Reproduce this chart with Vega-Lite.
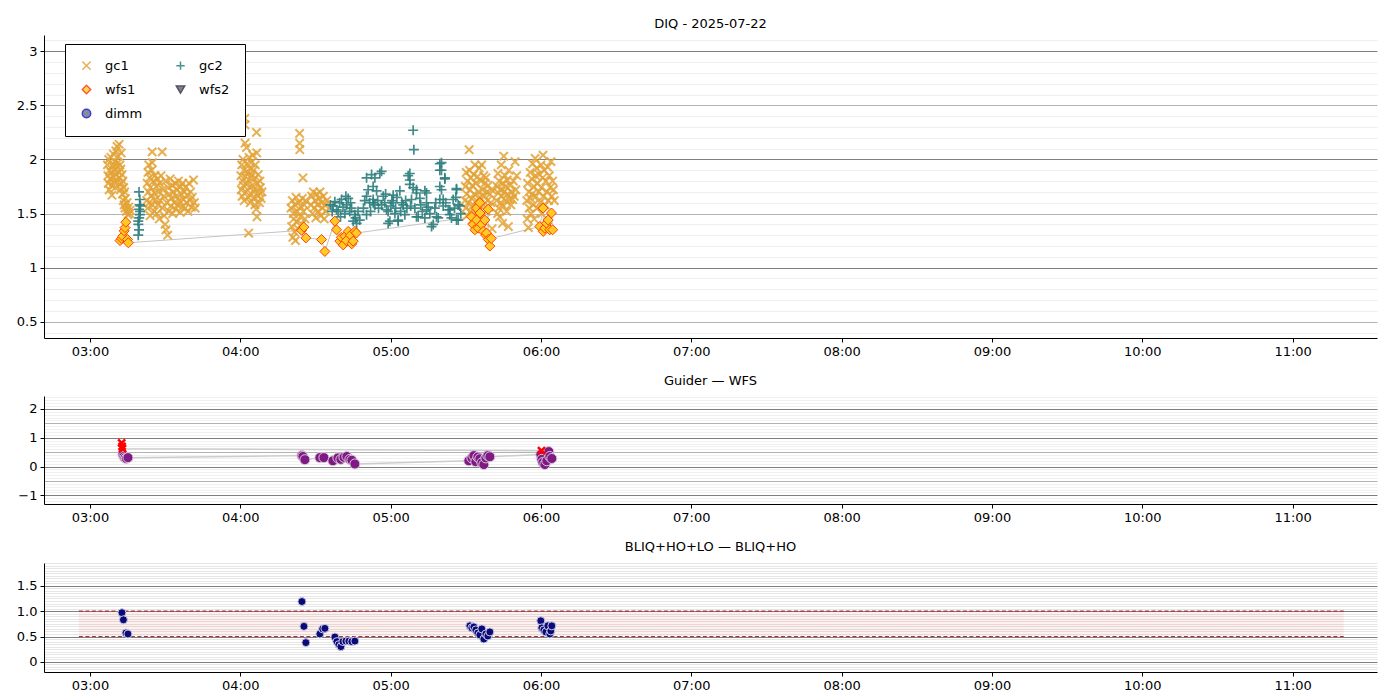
{
  "$schema": "https://vega.github.io/schema/vega-lite/v6.json",
  "background": "white",
  "padding": {"top": 18, "left": 16, "right": 23, "bottom": 5},
  "config": {
    "font": "DejaVu Sans",
    "view": {"stroke": null},
    "title": {"fontSize": 13, "fontWeight": "normal", "color": "black", "offset": 3, "anchor": "middle", "frame": "group", "font": "DejaVu Sans"},
    "axis": {"labelFont": "DejaVu Sans", "labelFontSize": 13, "labelColor": "black", "domainColor": "black", "domainWidth": 1, "tickColor": "black", "tickSize": 4, "labelPadding": 3},
    "axisX": {"grid": false, "labelFlush": false, "labelOverlap": false},
    "axisY": {"labelOverlap": false, "labelBound": false, "labelFlush": false},
    "concat": {"spacing": 17},
    "legend": {"fillColor": "white", "strokeColor": "black", "padding": 15, "labelFontSize": 13, "labelFont": "DejaVu Sans", "labelColor": "black", "symbolSize": 70, "symbolStrokeWidth": 1.5, "rowPadding": 9, "columnPadding": 30, "labelOffset": 12, "cornerRadius": 0}
  },
  "datasets": {
    "top": [
      {"s":"gc1","t":"2025-07-22T03:07:00Z","v":1.95},{"s":"gc1","t":"2025-07-22T03:07:10Z","v":1.85},{"s":"gc1","t":"2025-07-22T03:07:20Z","v":1.78},{"s":"gc1","t":"2025-07-22T03:07:30Z","v":2.0},{"s":"gc1","t":"2025-07-22T03:07:40Z","v":1.72},{"s":"gc1","t":"2025-07-22T03:07:50Z","v":1.9},{"s":"gc1","t":"2025-07-22T03:08:00Z","v":1.82},{"s":"gc1","t":"2025-07-22T03:08:47Z","v":1.67},{"s":"gc1","t":"2025-07-22T03:08:20Z","v":2.02},{"s":"gc1","t":"2025-07-22T03:08:30Z","v":1.88},{"s":"gc1","t":"2025-07-22T03:08:40Z","v":1.76},{"s":"gc1","t":"2025-07-22T03:09:00Z","v":1.94},{"s":"gc1","t":"2025-07-22T03:09:10Z","v":1.84},{"s":"gc1","t":"2025-07-22T03:09:20Z","v":2.05},{"s":"gc1","t":"2025-07-22T03:09:30Z","v":1.8},{"s":"gc1","t":"2025-07-22T03:09:50Z","v":1.9},{"s":"gc1","t":"2025-07-22T03:10:00Z","v":1.98},{"s":"gc1","t":"2025-07-22T03:10:10Z","v":1.74},{"s":"gc1","t":"2025-07-22T03:10:20Z","v":2.08},{"s":"gc1","t":"2025-07-22T03:10:30Z","v":1.86},{"s":"gc1","t":"2025-07-22T03:10:40Z","v":1.93},{"s":"gc1","t":"2025-07-22T03:10:50Z","v":2.12},{"s":"gc1","t":"2025-07-22T03:11:00Z","v":1.79},{"s":"gc1","t":"2025-07-22T03:11:10Z","v":1.97},{"s":"gc1","t":"2025-07-22T03:11:20Z","v":2.03},{"s":"gc1","t":"2025-07-22T03:11:30Z","v":1.88},{"s":"gc1","t":"2025-07-22T03:11:40Z","v":2.14},{"s":"gc1","t":"2025-07-22T03:11:50Z","v":1.83},{"s":"gc1","t":"2025-07-22T03:12:00Z","v":1.95},{"s":"gc1","t":"2025-07-22T03:12:10Z","v":1.72},{"s":"gc1","t":"2025-07-22T03:12:20Z","v":1.91},{"s":"gc1","t":"2025-07-22T03:12:30Z","v":2.06},{"s":"gc1","t":"2025-07-22T03:12:40Z","v":1.78},{"s":"gc1","t":"2025-07-22T03:12:50Z","v":1.86},{"s":"gc1","t":"2025-07-22T03:13:00Z","v":1.68},{"s":"gc1","t":"2025-07-22T03:13:10Z","v":1.8},{"s":"gc1","t":"2025-07-22T03:13:20Z","v":1.62},{"s":"gc1","t":"2025-07-22T03:13:30Z","v":1.74},{"s":"gc1","t":"2025-07-22T03:13:40Z","v":1.58},{"s":"gc1","t":"2025-07-22T03:13:50Z","v":1.7},{"s":"gc1","t":"2025-07-22T03:14:00Z","v":1.55},{"s":"gc1","t":"2025-07-22T03:14:10Z","v":1.64},{"s":"gc1","t":"2025-07-22T03:14:30Z","v":1.52},{"s":"gc1","t":"2025-07-22T03:14:50Z","v":1.6},{"s":"gc1","t":"2025-07-22T03:15:10Z","v":1.49},{"s":"gc1","t":"2025-07-22T03:15:30Z","v":1.56},{"s":"gc1","t":"2025-07-22T03:15:50Z","v":1.5},{"s":"gc1","t":"2025-07-22T03:16:00Z","v":1.53},
      {"s":"gc1","t":"2025-07-22T03:22:40Z","v":1.62},{"s":"gc1","t":"2025-07-22T03:22:50Z","v":1.78},{"s":"gc1","t":"2025-07-22T03:23:00Z","v":1.55},{"s":"gc1","t":"2025-07-22T03:23:10Z","v":1.88},{"s":"gc1","t":"2025-07-22T03:23:20Z","v":1.7},{"s":"gc1","t":"2025-07-22T03:23:30Z","v":1.95},{"s":"gc1","t":"2025-07-22T03:23:40Z","v":1.6},{"s":"gc1","t":"2025-07-22T03:23:50Z","v":1.83},{"s":"gc1","t":"2025-07-22T03:24:00Z","v":1.48},{"s":"gc1","t":"2025-07-22T03:24:10Z","v":1.74},{"s":"gc1","t":"2025-07-22T03:24:20Z","v":1.66},{"s":"gc1","t":"2025-07-22T03:24:40Z","v":1.9},{"s":"gc1","t":"2025-07-22T03:24:50Z","v":2.07},{"s":"gc1","t":"2025-07-22T03:24:55Z","v":1.97},{"s":"gc1","t":"2025-07-22T03:25:00Z","v":1.58},{"s":"gc1","t":"2025-07-22T03:25:20Z","v":1.8},{"s":"gc1","t":"2025-07-22T03:25:40Z","v":1.52},{"s":"gc1","t":"2025-07-22T03:25:50Z","v":1.69},{"s":"gc1","t":"2025-07-22T03:26:00Z","v":1.85},{"s":"gc1","t":"2025-07-22T03:26:20Z","v":1.63},{"s":"gc1","t":"2025-07-22T03:26:30Z","v":1.75},{"s":"gc1","t":"2025-07-22T03:26:40Z","v":1.5},{"s":"gc1","t":"2025-07-22T03:27:00Z","v":1.82},{"s":"gc1","t":"2025-07-22T03:27:10Z","v":1.58},{"s":"gc1","t":"2025-07-22T03:27:20Z","v":1.7},{"s":"gc1","t":"2025-07-22T03:27:40Z","v":1.45},{"s":"gc1","t":"2025-07-22T03:27:50Z","v":1.78},{"s":"gc1","t":"2025-07-22T03:28:00Z","v":1.62},{"s":"gc1","t":"2025-07-22T03:28:20Z","v":1.85},{"s":"gc1","t":"2025-07-22T03:28:50Z","v":2.07},{"s":"gc1","t":"2025-07-22T03:29:00Z","v":1.55},{"s":"gc1","t":"2025-07-22T03:29:10Z","v":1.72},{"s":"gc1","t":"2025-07-22T03:29:30Z","v":1.66},{"s":"gc1","t":"2025-07-22T03:29:40Z","v":1.48},{"s":"gc1","t":"2025-07-22T03:30:00Z","v":1.4},{"s":"gc1","t":"2025-07-22T03:30:10Z","v":1.8},{"s":"gc1","t":"2025-07-22T03:30:20Z","v":1.35},{"s":"gc1","t":"2025-07-22T03:30:40Z","v":1.6},{"s":"gc1","t":"2025-07-22T03:31:00Z","v":1.3},{"s":"gc1","t":"2025-07-22T03:31:10Z","v":1.74},{"s":"gc1","t":"2025-07-22T03:31:30Z","v":1.52},{"s":"gc1","t":"2025-07-22T03:31:40Z","v":1.68},{"s":"gc1","t":"2025-07-22T03:32:00Z","v":1.82},{"s":"gc1","t":"2025-07-22T03:32:20Z","v":1.57},{"s":"gc1","t":"2025-07-22T03:32:30Z","v":1.64},{"s":"gc1","t":"2025-07-22T03:32:50Z","v":1.76},{"s":"gc1","t":"2025-07-22T03:33:00Z","v":1.5},{"s":"gc1","t":"2025-07-22T03:33:20Z","v":1.7},{"s":"gc1","t":"2025-07-22T03:33:40Z","v":1.6},{"s":"gc1","t":"2025-07-22T03:34:00Z","v":1.78},{"s":"gc1","t":"2025-07-22T03:34:10Z","v":1.54},{"s":"gc1","t":"2025-07-22T03:34:30Z","v":1.66},{"s":"gc1","t":"2025-07-22T03:34:50Z","v":1.72},{"s":"gc1","t":"2025-07-22T03:35:00Z","v":1.58},{"s":"gc1","t":"2025-07-22T03:35:20Z","v":1.8},{"s":"gc1","t":"2025-07-22T03:35:40Z","v":1.62},{"s":"gc1","t":"2025-07-22T03:36:00Z","v":1.51},{"s":"gc1","t":"2025-07-22T03:36:10Z","v":1.75},{"s":"gc1","t":"2025-07-22T03:36:30Z","v":1.68},{"s":"gc1","t":"2025-07-22T03:36:50Z","v":1.56},{"s":"gc1","t":"2025-07-22T03:37:00Z","v":1.78},{"s":"gc1","t":"2025-07-22T03:37:20Z","v":1.63},{"s":"gc1","t":"2025-07-22T03:37:40Z","v":1.7},{"s":"gc1","t":"2025-07-22T03:38:00Z","v":1.55},{"s":"gc1","t":"2025-07-22T03:38:10Z","v":1.74},{"s":"gc1","t":"2025-07-22T03:38:30Z","v":1.6},{"s":"gc1","t":"2025-07-22T03:38:50Z","v":1.67},{"s":"gc1","t":"2025-07-22T03:39:10Z","v":1.52},{"s":"gc1","t":"2025-07-22T03:39:30Z","v":1.78},{"s":"gc1","t":"2025-07-22T03:39:50Z","v":1.62},{"s":"gc1","t":"2025-07-22T03:40:10Z","v":1.7},{"s":"gc1","t":"2025-07-22T03:40:30Z","v":1.56},{"s":"gc1","t":"2025-07-22T03:40:50Z","v":1.65},{"s":"gc1","t":"2025-07-22T03:41:20Z","v":1.81},{"s":"gc1","t":"2025-07-22T03:41:40Z","v":1.6},{"s":"gc1","t":"2025-07-22T03:42:00Z","v":1.55},
      {"s":"gc1","t":"2025-07-22T04:00:15Z","v":1.85},{"s":"gc1","t":"2025-07-22T04:00:25Z","v":1.72},{"s":"gc1","t":"2025-07-22T04:00:35Z","v":1.95},{"s":"gc1","t":"2025-07-22T04:00:45Z","v":1.66},{"s":"gc1","t":"2025-07-22T04:00:55Z","v":1.8},{"s":"gc1","t":"2025-07-22T04:01:05Z","v":2.0},{"s":"gc1","t":"2025-07-22T04:01:15Z","v":1.76},{"s":"gc1","t":"2025-07-22T04:01:25Z","v":1.9},{"s":"gc1","t":"2025-07-22T04:01:35Z","v":1.62},{"s":"gc1","t":"2025-07-22T04:01:50Z","v":2.38},{"s":"gc1","t":"2025-07-22T04:01:52Z","v":2.32},{"s":"gc1","t":"2025-07-22T04:01:55Z","v":2.15},{"s":"gc1","t":"2025-07-22T04:02:05Z","v":1.84},{"s":"gc1","t":"2025-07-22T04:02:15Z","v":1.7},{"s":"gc1","t":"2025-07-22T04:02:30Z","v":2.11},{"s":"gc1","t":"2025-07-22T04:02:40Z","v":1.96},{"s":"gc1","t":"2025-07-22T04:02:50Z","v":1.78},{"s":"gc1","t":"2025-07-22T04:03:00Z","v":1.88},{"s":"gc1","t":"2025-07-22T04:03:10Z","v":1.65},{"s":"gc1","t":"2025-07-22T04:03:20Z","v":1.32},{"s":"gc1","t":"2025-07-22T04:03:30Z","v":2.02},{"s":"gc1","t":"2025-07-22T04:03:40Z","v":1.74},{"s":"gc1","t":"2025-07-22T04:03:50Z","v":1.92},{"s":"gc1","t":"2025-07-22T04:04:00Z","v":1.6},{"s":"gc1","t":"2025-07-22T04:04:10Z","v":1.83},{"s":"gc1","t":"2025-07-22T04:04:20Z","v":1.97},{"s":"gc1","t":"2025-07-22T04:04:30Z","v":1.68},{"s":"gc1","t":"2025-07-22T04:04:40Z","v":1.86},{"s":"gc1","t":"2025-07-22T04:04:50Z","v":1.76},{"s":"gc1","t":"2025-07-22T04:05:00Z","v":2.04},{"s":"gc1","t":"2025-07-22T04:05:10Z","v":1.64},{"s":"gc1","t":"2025-07-22T04:05:20Z","v":1.9},{"s":"gc1","t":"2025-07-22T04:05:30Z","v":1.72},{"s":"gc1","t":"2025-07-22T04:05:40Z","v":1.82},{"s":"gc1","t":"2025-07-22T04:05:50Z","v":1.58},{"s":"gc1","t":"2025-07-22T04:06:00Z","v":1.95},{"s":"gc1","t":"2025-07-22T04:06:20Z","v":1.54},{"s":"gc1","t":"2025-07-22T04:06:30Z","v":2.25},{"s":"gc1","t":"2025-07-22T04:06:35Z","v":2.06},{"s":"gc1","t":"2025-07-22T04:06:40Z","v":1.47},{"s":"gc1","t":"2025-07-22T04:06:50Z","v":1.78},{"s":"gc1","t":"2025-07-22T04:07:00Z","v":1.66},{"s":"gc1","t":"2025-07-22T04:07:10Z","v":1.86},{"s":"gc1","t":"2025-07-22T04:07:20Z","v":1.7},{"s":"gc1","t":"2025-07-22T04:07:40Z","v":1.6},{"s":"gc1","t":"2025-07-22T04:07:50Z","v":1.8},{"s":"gc1","t":"2025-07-22T04:08:00Z","v":1.74},{"s":"gc1","t":"2025-07-22T04:08:20Z","v":1.64},{"s":"gc1","t":"2025-07-22T04:08:40Z","v":1.7},
      {"s":"gc1","t":"2025-07-22T04:20:15Z","v":1.55},{"s":"gc1","t":"2025-07-22T04:20:30Z","v":1.38},{"s":"gc1","t":"2025-07-22T04:20:45Z","v":1.62},{"s":"gc1","t":"2025-07-22T04:21:00Z","v":1.28},{"s":"gc1","t":"2025-07-22T04:21:10Z","v":1.5},{"s":"gc1","t":"2025-07-22T04:21:20Z","v":1.45},{"s":"gc1","t":"2025-07-22T04:21:40Z","v":1.33},{"s":"gc1","t":"2025-07-22T04:21:50Z","v":1.58},{"s":"gc1","t":"2025-07-22T04:22:00Z","v":1.25},{"s":"gc1","t":"2025-07-22T04:22:15Z","v":1.65},{"s":"gc1","t":"2025-07-22T04:22:30Z","v":1.42},{"s":"gc1","t":"2025-07-22T04:22:45Z","v":1.52},{"s":"gc1","t":"2025-07-22T04:23:00Z","v":1.36},{"s":"gc1","t":"2025-07-22T04:23:15Z","v":1.6},{"s":"gc1","t":"2025-07-22T04:23:40Z","v":2.24},{"s":"gc1","t":"2025-07-22T04:23:42Z","v":2.15},{"s":"gc1","t":"2025-07-22T04:23:45Z","v":2.09},{"s":"gc1","t":"2025-07-22T04:24:00Z","v":1.47},{"s":"gc1","t":"2025-07-22T04:24:15Z","v":1.56},{"s":"gc1","t":"2025-07-22T04:24:30Z","v":1.4},{"s":"gc1","t":"2025-07-22T04:24:45Z","v":1.64},{"s":"gc1","t":"2025-07-22T04:25:00Z","v":1.83},{"s":"gc1","t":"2025-07-22T04:25:10Z","v":1.52},{"s":"gc1","t":"2025-07-22T04:25:30Z","v":1.58},{"s":"gc1","t":"2025-07-22T04:25:50Z","v":1.45},{"s":"gc1","t":"2025-07-22T04:26:05Z","v":1.62},
      {"s":"gc1","t":"2025-07-22T04:28:15Z","v":1.58},{"s":"gc1","t":"2025-07-22T04:28:30Z","v":1.66},{"s":"gc1","t":"2025-07-22T04:28:50Z","v":1.5},{"s":"gc1","t":"2025-07-22T04:29:10Z","v":1.7},{"s":"gc1","t":"2025-07-22T04:29:30Z","v":1.55},{"s":"gc1","t":"2025-07-22T04:29:50Z","v":1.62},{"s":"gc1","t":"2025-07-22T04:30:10Z","v":1.46},{"s":"gc1","t":"2025-07-22T04:30:30Z","v":1.68},{"s":"gc1","t":"2025-07-22T04:30:50Z","v":1.58},{"s":"gc1","t":"2025-07-22T04:31:10Z","v":1.52},{"s":"gc1","t":"2025-07-22T04:31:30Z","v":1.64},{"s":"gc1","t":"2025-07-22T04:31:50Z","v":1.7},{"s":"gc1","t":"2025-07-22T04:32:10Z","v":1.48},{"s":"gc1","t":"2025-07-22T04:32:30Z","v":1.6},{"s":"gc1","t":"2025-07-22T04:32:50Z","v":1.55},{"s":"gc1","t":"2025-07-22T04:33:10Z","v":1.66},{"s":"gc1","t":"2025-07-22T04:33:30Z","v":1.45},{"s":"gc1","t":"2025-07-22T04:33:50Z","v":1.58},{"s":"gc1","t":"2025-07-22T04:34:10Z","v":1.52},{"s":"gc1","t":"2025-07-22T04:34:30Z","v":1.62},
      {"s":"gc1","t":"2025-07-22T05:29:40Z","v":1.62},{"s":"gc1","t":"2025-07-22T05:29:50Z","v":1.75},{"s":"gc1","t":"2025-07-22T05:30:00Z","v":1.55},{"s":"gc1","t":"2025-07-22T05:30:10Z","v":1.88},{"s":"gc1","t":"2025-07-22T05:30:20Z","v":1.68},{"s":"gc1","t":"2025-07-22T05:30:30Z","v":1.48},{"s":"gc1","t":"2025-07-22T05:30:40Z","v":1.8},{"s":"gc1","t":"2025-07-22T05:31:00Z","v":1.6},{"s":"gc1","t":"2025-07-22T05:31:20Z","v":2.09},{"s":"gc1","t":"2025-07-22T05:31:30Z","v":1.9},{"s":"gc1","t":"2025-07-22T05:31:40Z","v":1.72},{"s":"gc1","t":"2025-07-22T05:31:50Z","v":1.52},{"s":"gc1","t":"2025-07-22T05:32:00Z","v":1.83},{"s":"gc1","t":"2025-07-22T05:32:20Z","v":1.64},{"s":"gc1","t":"2025-07-22T05:32:30Z","v":1.44},{"s":"gc1","t":"2025-07-22T05:32:40Z","v":1.76},{"s":"gc1","t":"2025-07-22T05:33:00Z","v":1.58},{"s":"gc1","t":"2025-07-22T05:33:10Z","v":1.86},{"s":"gc1","t":"2025-07-22T05:33:20Z","v":1.68},{"s":"gc1","t":"2025-07-22T05:33:40Z","v":1.95},{"s":"gc1","t":"2025-07-22T05:33:50Z","v":1.5},{"s":"gc1","t":"2025-07-22T05:34:00Z","v":1.78},{"s":"gc1","t":"2025-07-22T05:34:20Z","v":1.62},{"s":"gc1","t":"2025-07-22T05:34:30Z","v":1.4},{"s":"gc1","t":"2025-07-22T05:34:40Z","v":1.84},{"s":"gc1","t":"2025-07-22T05:35:00Z","v":1.7},{"s":"gc1","t":"2025-07-22T05:35:10Z","v":1.55},{"s":"gc1","t":"2025-07-22T05:35:20Z","v":1.92},{"s":"gc1","t":"2025-07-22T05:35:40Z","v":1.65},{"s":"gc1","t":"2025-07-22T05:36:00Z","v":1.8},{"s":"gc1","t":"2025-07-22T05:36:10Z","v":1.47},{"s":"gc1","t":"2025-07-22T05:36:20Z","v":1.95},{"s":"gc1","t":"2025-07-22T05:36:40Z","v":1.72},{"s":"gc1","t":"2025-07-22T05:37:00Z","v":1.58},{"s":"gc1","t":"2025-07-22T05:37:10Z","v":1.85},{"s":"gc1","t":"2025-07-22T05:37:20Z","v":1.66},{"s":"gc1","t":"2025-07-22T05:37:40Z","v":1.78},{"s":"gc1","t":"2025-07-22T05:38:00Z","v":1.83},{"s":"gc1","t":"2025-07-22T05:38:10Z","v":1.52},{"s":"gc1","t":"2025-07-22T05:38:20Z","v":1.7},{"s":"gc1","t":"2025-07-22T05:38:40Z","v":1.62},{"s":"gc1","t":"2025-07-22T05:39:00Z","v":1.76},{"s":"gc1","t":"2025-07-22T05:39:20Z","v":1.56},{"s":"gc1","t":"2025-07-22T05:39:40Z","v":1.68},{"s":"gc1","t":"2025-07-22T05:40:00Z","v":1.6},{"s":"gc1","t":"2025-07-22T05:40:20Z","v":1.72},{"s":"gc1","t":"2025-07-22T05:40:30Z","v":1.36},
      {"s":"gc1","t":"2025-07-22T05:42:20Z","v":1.62},{"s":"gc1","t":"2025-07-22T05:42:30Z","v":1.75},{"s":"gc1","t":"2025-07-22T05:42:40Z","v":1.5},{"s":"gc1","t":"2025-07-22T05:42:50Z","v":1.87},{"s":"gc1","t":"2025-07-22T05:43:00Z","v":1.69},{"s":"gc1","t":"2025-07-22T05:43:10Z","v":1.55},{"s":"gc1","t":"2025-07-22T05:43:20Z","v":1.8},{"s":"gc1","t":"2025-07-22T05:43:30Z","v":1.47},{"s":"gc1","t":"2025-07-22T05:43:50Z","v":1.72},{"s":"gc1","t":"2025-07-22T05:44:00Z","v":1.6},{"s":"gc1","t":"2025-07-22T05:44:10Z","v":1.95},{"s":"gc1","t":"2025-07-22T05:44:20Z","v":1.66},{"s":"gc1","t":"2025-07-22T05:44:40Z","v":1.41},{"s":"gc1","t":"2025-07-22T05:44:50Z","v":1.78},{"s":"gc1","t":"2025-07-22T05:45:00Z","v":1.57},{"s":"gc1","t":"2025-07-22T05:45:10Z","v":2.03},{"s":"gc1","t":"2025-07-22T05:45:20Z","v":1.7},{"s":"gc1","t":"2025-07-22T05:45:40Z","v":1.85},{"s":"gc1","t":"2025-07-22T05:45:50Z","v":1.62},{"s":"gc1","t":"2025-07-22T05:46:00Z","v":1.75},{"s":"gc1","t":"2025-07-22T05:46:20Z","v":1.52},{"s":"gc1","t":"2025-07-22T05:46:30Z","v":1.81},{"s":"gc1","t":"2025-07-22T05:46:40Z","v":1.68},{"s":"gc1","t":"2025-07-22T05:47:00Z","v":1.38},{"s":"gc1","t":"2025-07-22T05:47:10Z","v":1.9},{"s":"gc1","t":"2025-07-22T05:47:20Z","v":1.63},{"s":"gc1","t":"2025-07-22T05:47:40Z","v":1.76},{"s":"gc1","t":"2025-07-22T05:48:00Z","v":1.58},{"s":"gc1","t":"2025-07-22T05:48:20Z","v":1.7},{"s":"gc1","t":"2025-07-22T05:48:40Z","v":1.63},{"s":"gc1","t":"2025-07-22T05:49:00Z","v":1.8},{"s":"gc1","t":"2025-07-22T05:49:20Z","v":1.66},{"s":"gc1","t":"2025-07-22T05:49:40Z","v":1.98},{"s":"gc1","t":"2025-07-22T05:50:00Z","v":1.72},{"s":"gc1","t":"2025-07-22T05:50:20Z","v":1.85},
      {"s":"gc1","t":"2025-07-22T05:54:20Z","v":1.62},{"s":"gc1","t":"2025-07-22T05:54:30Z","v":1.45},{"s":"gc1","t":"2025-07-22T05:54:40Z","v":1.78},{"s":"gc1","t":"2025-07-22T05:55:00Z","v":1.37},{"s":"gc1","t":"2025-07-22T05:55:10Z","v":1.7},{"s":"gc1","t":"2025-07-22T05:55:20Z","v":1.55},{"s":"gc1","t":"2025-07-22T05:55:40Z","v":1.88},{"s":"gc1","t":"2025-07-22T05:55:50Z","v":1.64},{"s":"gc1","t":"2025-07-22T05:56:00Z","v":1.5},{"s":"gc1","t":"2025-07-22T05:56:20Z","v":1.82},{"s":"gc1","t":"2025-07-22T05:56:30Z","v":1.68},{"s":"gc1","t":"2025-07-22T05:56:40Z","v":1.96},{"s":"gc1","t":"2025-07-22T05:57:00Z","v":1.58},{"s":"gc1","t":"2025-07-22T05:57:10Z","v":1.75},{"s":"gc1","t":"2025-07-22T05:57:20Z","v":1.45},{"s":"gc1","t":"2025-07-22T05:57:40Z","v":2.01},{"s":"gc1","t":"2025-07-22T05:57:50Z","v":1.85},{"s":"gc1","t":"2025-07-22T05:58:00Z","v":1.66},{"s":"gc1","t":"2025-07-22T05:58:20Z","v":1.92},{"s":"gc1","t":"2025-07-22T05:58:30Z","v":1.55},{"s":"gc1","t":"2025-07-22T05:58:40Z","v":1.78},{"s":"gc1","t":"2025-07-22T05:59:00Z","v":1.7},{"s":"gc1","t":"2025-07-22T05:59:20Z","v":1.86},{"s":"gc1","t":"2025-07-22T05:59:40Z","v":1.6},{"s":"gc1","t":"2025-07-22T06:00:00Z","v":1.95},{"s":"gc1","t":"2025-07-22T06:00:10Z","v":1.74},{"s":"gc1","t":"2025-07-22T06:00:20Z","v":1.5},{"s":"gc1","t":"2025-07-22T06:00:40Z","v":1.83},{"s":"gc1","t":"2025-07-22T06:00:50Z","v":2.04},{"s":"gc1","t":"2025-07-22T06:01:00Z","v":1.66},{"s":"gc1","t":"2025-07-22T06:01:20Z","v":1.9},{"s":"gc1","t":"2025-07-22T06:01:40Z","v":1.58},{"s":"gc1","t":"2025-07-22T06:02:00Z","v":1.8},{"s":"gc1","t":"2025-07-22T06:02:20Z","v":1.7},{"s":"gc1","t":"2025-07-22T06:02:40Z","v":1.93},{"s":"gc1","t":"2025-07-22T06:03:00Z","v":1.62},{"s":"gc1","t":"2025-07-22T06:03:20Z","v":1.85},{"s":"gc1","t":"2025-07-22T06:03:40Z","v":1.74},{"s":"gc1","t":"2025-07-22T06:04:00Z","v":1.98},{"s":"gc1","t":"2025-07-22T06:04:20Z","v":1.66},{"s":"gc1","t":"2025-07-22T06:04:40Z","v":1.8},{"s":"gc1","t":"2025-07-22T06:05:00Z","v":1.72},{"s":"gc1","t":"2025-07-22T06:05:20Z","v":1.62},
      {"s":"gc2","t":"2025-07-22T03:19:36Z","v":1.7},{"s":"gc2","t":"2025-07-22T03:19:55Z","v":1.63},{"s":"gc2","t":"2025-07-22T03:19:36Z","v":1.54},{"s":"gc2","t":"2025-07-22T03:19:55Z","v":1.49},{"s":"gc2","t":"2025-07-22T03:19:17Z","v":1.43},{"s":"gc2","t":"2025-07-22T03:19:36Z","v":1.35},{"s":"gc2","t":"2025-07-22T03:19:17Z","v":1.3},{"s":"gc2","t":"2025-07-22T03:19:50Z","v":1.58},{"s":"gc2","t":"2025-07-22T03:20:00Z","v":1.52},{"s":"gc2","t":"2025-07-22T03:19:40Z","v":1.46},{"s":"gc2","t":"2025-07-22T03:19:20Z","v":1.4},{"s":"gc2","t":"2025-07-22T03:20:10Z","v":1.57},
      {"s":"gc2","t":"2025-07-22T04:36:00Z","v":1.58},{"s":"gc2","t":"2025-07-22T04:36:40Z","v":1.52},{"s":"gc2","t":"2025-07-22T04:37:05Z","v":1.57},{"s":"gc2","t":"2025-07-22T04:37:45Z","v":1.61},{"s":"gc2","t":"2025-07-22T04:38:25Z","v":1.535},{"s":"gc2","t":"2025-07-22T04:39:04Z","v":1.52},{"s":"gc2","t":"2025-07-22T04:39:40Z","v":1.6},{"s":"gc2","t":"2025-07-22T04:40:00Z","v":1.47},{"s":"gc2","t":"2025-07-22T04:40:26Z","v":1.63},{"s":"gc2","t":"2025-07-22T04:41:00Z","v":1.56},{"s":"gc2","t":"2025-07-22T04:41:45Z","v":1.5},{"s":"gc2","t":"2025-07-22T04:42:09Z","v":1.66},{"s":"gc2","t":"2025-07-22T04:42:25Z","v":1.58},{"s":"gc2","t":"2025-07-22T04:43:04Z","v":1.64},{"s":"gc2","t":"2025-07-22T04:43:40Z","v":1.52},{"s":"gc2","t":"2025-07-22T04:44:00Z","v":1.6},{"s":"gc2","t":"2025-07-22T04:44:25Z","v":1.55},{"s":"gc2","t":"2025-07-22T04:45:04Z","v":1.43},{"s":"gc2","t":"2025-07-22T04:45:44Z","v":1.49},{"s":"gc2","t":"2025-07-22T04:46:00Z","v":1.46},{"s":"gc2","t":"2025-07-22T04:46:25Z","v":1.41},{"s":"gc2","t":"2025-07-22T04:47:00Z","v":1.52},{"s":"gc2","t":"2025-07-22T04:47:40Z","v":1.44},
      {"s":"gc2","t":"2025-07-22T04:49:10Z","v":1.55},{"s":"gc2","t":"2025-07-22T04:49:40Z","v":1.62},{"s":"gc2","t":"2025-07-22T04:50:24Z","v":1.83},{"s":"gc2","t":"2025-07-22T04:50:24Z","v":1.66},{"s":"gc2","t":"2025-07-22T04:50:24Z","v":1.49},{"s":"gc2","t":"2025-07-22T04:51:02Z","v":1.72},{"s":"gc2","t":"2025-07-22T04:51:40Z","v":1.6},{"s":"gc2","t":"2025-07-22T04:52:00Z","v":1.52},{"s":"gc2","t":"2025-07-22T04:52:24Z","v":1.86},{"s":"gc2","t":"2025-07-22T04:53:02Z","v":1.75},{"s":"gc2","t":"2025-07-22T04:53:02Z","v":1.63},{"s":"gc2","t":"2025-07-22T04:53:02Z","v":1.6},{"s":"gc2","t":"2025-07-22T04:53:43Z","v":1.83},{"s":"gc2","t":"2025-07-22T04:53:43Z","v":1.58},{"s":"gc2","t":"2025-07-22T04:54:24Z","v":1.71},{"s":"gc2","t":"2025-07-22T04:54:50Z","v":1.62},{"s":"gc2","t":"2025-07-22T04:55:10Z","v":1.55},{"s":"gc2","t":"2025-07-22T04:55:43Z","v":1.87},{"s":"gc2","t":"2025-07-22T04:56:24Z","v":1.89},{"s":"gc2","t":"2025-07-22T04:56:24Z","v":1.58},{"s":"gc2","t":"2025-07-22T04:57:02Z","v":1.66},{"s":"gc2","t":"2025-07-22T04:57:40Z","v":1.6},{"s":"gc2","t":"2025-07-22T04:58:00Z","v":1.68},{"s":"gc2","t":"2025-07-22T04:58:23Z","v":1.535},{"s":"gc2","t":"2025-07-22T04:59:01Z","v":1.52},{"s":"gc2","t":"2025-07-22T04:59:01Z","v":1.41},{"s":"gc2","t":"2025-07-22T04:59:42Z","v":1.43},{"s":"gc2","t":"2025-07-22T05:00:00Z","v":1.57},{"s":"gc2","t":"2025-07-22T05:00:30Z","v":1.62},{"s":"gc2","t":"2025-07-22T05:01:01Z","v":1.67},{"s":"gc2","t":"2025-07-22T05:01:01Z","v":1.6},{"s":"gc2","t":"2025-07-22T05:01:42Z","v":1.5},{"s":"gc2","t":"2025-07-22T05:02:00Z","v":1.55},{"s":"gc2","t":"2025-07-22T05:02:30Z","v":1.65},{"s":"gc2","t":"2025-07-22T05:03:01Z","v":1.43},{"s":"gc2","t":"2025-07-22T05:03:01Z","v":1.44},{"s":"gc2","t":"2025-07-22T05:03:41Z","v":1.71},{"s":"gc2","t":"2025-07-22T05:04:00Z","v":1.52},{"s":"gc2","t":"2025-07-22T05:04:30Z","v":1.6},{"s":"gc2","t":"2025-07-22T05:05:01Z","v":1.58},{"s":"gc2","t":"2025-07-22T05:05:41Z","v":1.49},{"s":"gc2","t":"2025-07-22T05:06:00Z","v":1.62},{"s":"gc2","t":"2025-07-22T05:06:30Z","v":1.55},{"s":"gc2","t":"2025-07-22T05:07:00Z","v":1.85},{"s":"gc2","t":"2025-07-22T05:07:40Z","v":1.87},{"s":"gc2","t":"2025-07-22T05:07:40Z","v":1.81},{"s":"gc2","t":"2025-07-22T05:07:40Z","v":1.77},{"s":"gc2","t":"2025-07-22T05:08:00Z","v":1.57},{"s":"gc2","t":"2025-07-22T05:08:21Z","v":1.63},{"s":"gc2","t":"2025-07-22T05:09:00Z","v":2.27},{"s":"gc2","t":"2025-07-22T05:09:17Z","v":2.09},{"s":"gc2","t":"2025-07-22T05:09:00Z","v":1.74},{"s":"gc2","t":"2025-07-22T05:09:40Z","v":1.55},{"s":"gc2","t":"2025-07-22T05:10:20Z","v":1.69},{"s":"gc2","t":"2025-07-22T05:10:20Z","v":1.47},{"s":"gc2","t":"2025-07-22T05:10:20Z","v":1.72},{"s":"gc2","t":"2025-07-22T05:11:00Z","v":1.47},{"s":"gc2","t":"2025-07-22T05:11:40Z","v":1.64},{"s":"gc2","t":"2025-07-22T05:12:00Z","v":1.58},{"s":"gc2","t":"2025-07-22T05:12:40Z","v":1.52},{"s":"gc2","t":"2025-07-22T05:13:40Z","v":1.71},{"s":"gc2","t":"2025-07-22T05:13:40Z","v":1.46},{"s":"gc2","t":"2025-07-22T05:14:20Z","v":1.6},{"s":"gc2","t":"2025-07-22T05:14:20Z","v":1.69},{"s":"gc2","t":"2025-07-22T05:14:20Z","v":1.535},{"s":"gc2","t":"2025-07-22T05:15:00Z","v":1.56},{"s":"gc2","t":"2025-07-22T05:15:40Z","v":1.5},{"s":"gc2","t":"2025-07-22T05:16:20Z","v":1.38},{"s":"gc2","t":"2025-07-22T05:17:00Z","v":1.4},{"s":"gc2","t":"2025-07-22T05:17:40Z","v":1.55},{"s":"gc2","t":"2025-07-22T05:18:00Z","v":1.6},{"s":"gc2","t":"2025-07-22T05:18:20Z","v":1.47},{"s":"gc2","t":"2025-07-22T05:19:00Z","v":1.46},{"s":"gc2","t":"2025-07-22T05:19:39Z","v":1.96},{"s":"gc2","t":"2025-07-22T05:19:39Z","v":1.9},{"s":"gc2","t":"2025-07-22T05:19:39Z","v":1.63},{"s":"gc2","t":"2025-07-22T05:19:39Z","v":1.75},{"s":"gc2","t":"2025-07-22T05:20:19Z","v":1.72},{"s":"gc2","t":"2025-07-22T05:20:19Z","v":1.97},{"s":"gc2","t":"2025-07-22T05:20:19Z","v":1.9},{"s":"gc2","t":"2025-07-22T05:20:59Z","v":1.57},{"s":"gc2","t":"2025-07-22T05:20:59Z","v":1.63},{"s":"gc2","t":"2025-07-22T05:21:39Z","v":1.82},{"s":"gc2","t":"2025-07-22T05:21:39Z","v":1.83},{"s":"gc2","t":"2025-07-22T05:22:00Z","v":1.6},{"s":"gc2","t":"2025-07-22T05:22:59Z","v":1.535},{"s":"gc2","t":"2025-07-22T05:23:38Z","v":1.535},{"s":"gc2","t":"2025-07-22T05:23:38Z","v":1.49},{"s":"gc2","t":"2025-07-22T05:24:18Z","v":1.46},{"s":"gc2","t":"2025-07-22T05:24:58Z","v":1.63},{"s":"gc2","t":"2025-07-22T05:25:30Z","v":1.55},{"s":"gc2","t":"2025-07-22T05:26:02Z","v":1.65},{"s":"gc2","t":"2025-07-22T05:26:18Z","v":1.73},{"s":"gc2","t":"2025-07-22T05:26:18Z","v":1.72},{"s":"gc2","t":"2025-07-22T05:26:18Z","v":1.44},{"s":"gc2","t":"2025-07-22T05:26:57Z","v":1.58},{"s":"gc2","t":"2025-07-22T05:26:57Z","v":1.44},{"s":"gc2","t":"2025-07-22T05:27:37Z","v":1.57},{"s":"gc2","t":"2025-07-22T05:28:00Z","v":1.5},
      {"s":"wfs1","t":"2025-07-22T03:12:00Z","v":1.25},{"s":"wfs1","t":"2025-07-22T03:12:40Z","v":1.27},{"s":"wfs1","t":"2025-07-22T03:13:05Z","v":1.29},{"s":"wfs1","t":"2025-07-22T03:13:40Z","v":1.34},{"s":"wfs1","t":"2025-07-22T03:14:00Z","v":1.37},{"s":"wfs1","t":"2025-07-22T03:14:20Z","v":1.42},{"s":"wfs1","t":"2025-07-22T03:15:00Z","v":1.26},{"s":"wfs1","t":"2025-07-22T03:15:20Z","v":1.23},
      {"s":"wfs1","t":"2025-07-22T04:24:28Z","v":1.345},{"s":"wfs1","t":"2025-07-22T04:25:23Z","v":1.375},{"s":"wfs1","t":"2025-07-22T04:26:11Z","v":1.275},{"s":"wfs1","t":"2025-07-22T04:32:26Z","v":1.26},{"s":"wfs1","t":"2025-07-22T04:33:46Z","v":1.15},
      {"s":"wfs1","t":"2025-07-22T04:37:45Z","v":1.43},{"s":"wfs1","t":"2025-07-22T04:38:25Z","v":1.35},{"s":"wfs1","t":"2025-07-22T04:39:45Z","v":1.245},{"s":"wfs1","t":"2025-07-22T04:40:20Z","v":1.28},{"s":"wfs1","t":"2025-07-22T04:41:05Z","v":1.21},{"s":"wfs1","t":"2025-07-22T04:41:45Z","v":1.29},{"s":"wfs1","t":"2025-07-22T04:42:20Z","v":1.25},{"s":"wfs1","t":"2025-07-22T04:43:04Z","v":1.335},{"s":"wfs1","t":"2025-07-22T04:44:00Z","v":1.3},{"s":"wfs1","t":"2025-07-22T04:44:30Z","v":1.22},{"s":"wfs1","t":"2025-07-22T04:45:04Z","v":1.245},{"s":"wfs1","t":"2025-07-22T04:45:44Z","v":1.335},{"s":"wfs1","t":"2025-07-22T04:46:20Z","v":1.32},
      {"s":"wfs1","t":"2025-07-22T05:32:18Z","v":1.47},{"s":"wfs1","t":"2025-07-22T05:32:55Z","v":1.4},{"s":"wfs1","t":"2025-07-22T05:33:37Z","v":1.35},{"s":"wfs1","t":"2025-07-22T05:34:17Z","v":1.55},{"s":"wfs1","t":"2025-07-22T05:34:20Z","v":1.44},{"s":"wfs1","t":"2025-07-22T05:35:00Z","v":1.365},{"s":"wfs1","t":"2025-07-22T05:35:37Z","v":1.6},{"s":"wfs1","t":"2025-07-22T05:35:40Z","v":1.505},{"s":"wfs1","t":"2025-07-22T05:36:17Z","v":1.4},{"s":"wfs1","t":"2025-07-22T05:36:56Z","v":1.335},{"s":"wfs1","t":"2025-07-22T05:37:36Z","v":1.44},{"s":"wfs1","t":"2025-07-22T05:38:00Z","v":1.3},{"s":"wfs1","t":"2025-07-22T05:38:16Z","v":1.32},{"s":"wfs1","t":"2025-07-22T05:38:56Z","v":1.54},{"s":"wfs1","t":"2025-07-22T05:39:00Z","v":1.26},{"s":"wfs1","t":"2025-07-22T05:39:36Z","v":1.2},{"s":"wfs1","t":"2025-07-22T05:40:10Z","v":1.27},
      {"s":"wfs1","t":"2025-07-22T05:59:33Z","v":1.38},{"s":"wfs1","t":"2025-07-22T06:00:52Z","v":1.55},{"s":"wfs1","t":"2025-07-22T06:00:55Z","v":1.335},{"s":"wfs1","t":"2025-07-22T06:01:32Z","v":1.365},{"s":"wfs1","t":"2025-07-22T06:02:12Z","v":1.41},{"s":"wfs1","t":"2025-07-22T06:02:52Z","v":1.44},{"s":"wfs1","t":"2025-07-22T06:03:32Z","v":1.35},{"s":"wfs1","t":"2025-07-22T06:04:12Z","v":1.505},{"s":"wfs1","t":"2025-07-22T06:04:40Z","v":1.35}
    ],
    "mid": [
      {"s":"p","t":"2025-07-22T03:13:10Z","v":0.42},{"s":"p","t":"2025-07-22T03:13:34Z","v":0.35},{"s":"p","t":"2025-07-22T03:14:00Z","v":0.3},{"s":"p","t":"2025-07-22T03:14:34Z","v":0.28},{"s":"p","t":"2025-07-22T03:15:10Z","v":0.31},
      {"s":"p","t":"2025-07-22T04:24:36Z","v":0.38},{"s":"p","t":"2025-07-22T04:25:00Z","v":0.35},{"s":"p","t":"2025-07-22T04:25:47Z","v":0.24},{"s":"p","t":"2025-07-22T04:31:46Z","v":0.31},{"s":"p","t":"2025-07-22T04:33:22Z","v":0.31},
      {"s":"p","t":"2025-07-22T04:36:58Z","v":0.2},{"s":"p","t":"2025-07-22T04:38:57Z","v":0.3},{"s":"p","t":"2025-07-22T04:40:09Z","v":0.25},{"s":"p","t":"2025-07-22T04:41:21Z","v":0.32},{"s":"p","t":"2025-07-22T04:42:32Z","v":0.35},{"s":"p","t":"2025-07-22T04:43:44Z","v":0.25},{"s":"p","t":"2025-07-22T04:44:32Z","v":0.22},{"s":"p","t":"2025-07-22T04:45:44Z","v":0.09},
      {"s":"p","t":"2025-07-22T05:31:13Z","v":0.2},{"s":"p","t":"2025-07-22T05:32:25Z","v":0.3},{"s":"p","t":"2025-07-22T05:33:13Z","v":0.38},{"s":"p","t":"2025-07-22T05:34:00Z","v":0.17},{"s":"p","t":"2025-07-22T05:34:48Z","v":0.33},{"s":"p","t":"2025-07-22T05:35:36Z","v":0.27},{"s":"p","t":"2025-07-22T05:36:24Z","v":0.13},{"s":"p","t":"2025-07-22T05:37:12Z","v":0.07},{"s":"p","t":"2025-07-22T05:38:00Z","v":0.3},{"s":"p","t":"2025-07-22T05:38:48Z","v":0.38},{"s":"p","t":"2025-07-22T05:39:36Z","v":0.34},
      {"s":"p","t":"2025-07-22T05:59:56Z","v":0.42},{"s":"p","t":"2025-07-22T06:00:20Z","v":0.25},{"s":"p","t":"2025-07-22T06:00:45Z","v":0.14},{"s":"p","t":"2025-07-22T06:01:32Z","v":0.07},{"s":"p","t":"2025-07-22T06:02:20Z","v":0.2},{"s":"p","t":"2025-07-22T06:03:08Z","v":0.52},{"s":"p","t":"2025-07-22T06:03:32Z","v":0.35},{"s":"p","t":"2025-07-22T06:04:20Z","v":0.28},
      {"s":"x","t":"2025-07-22T03:12:40Z","v":0.82},{"s":"x","t":"2025-07-22T03:12:50Z","v":0.7},{"s":"x","t":"2025-07-22T03:13:00Z","v":0.62},{"s":"x","t":"2025-07-22T06:00:13Z","v":0.55}
    ],
    "bot": [
      {"t":"2025-07-22T03:12:46Z","v":0.97},{"t":"2025-07-22T03:13:22Z","v":0.83},{"t":"2025-07-22T03:14:22Z","v":0.57},{"t":"2025-07-22T03:15:10Z","v":0.55},
      {"t":"2025-07-22T04:24:36Z","v":1.19},{"t":"2025-07-22T04:25:24Z","v":0.7},{"t":"2025-07-22T04:26:11Z","v":0.38},{"t":"2025-07-22T04:31:46Z","v":0.55},{"t":"2025-07-22T04:32:53Z","v":0.65},{"t":"2025-07-22T04:33:46Z","v":0.66},
      {"t":"2025-07-22T04:37:45Z","v":0.49},{"t":"2025-07-22T04:38:33Z","v":0.4},{"t":"2025-07-22T04:39:21Z","v":0.34},{"t":"2025-07-22T04:40:09Z","v":0.3},{"t":"2025-07-22T04:40:57Z","v":0.4},{"t":"2025-07-22T04:42:09Z","v":0.41},{"t":"2025-07-22T04:43:20Z","v":0.41},{"t":"2025-07-22T04:44:32Z","v":0.4},{"t":"2025-07-22T04:45:44Z","v":0.41},
      {"t":"2025-07-22T05:31:37Z","v":0.71},{"t":"2025-07-22T05:32:25Z","v":0.67},{"t":"2025-07-22T05:33:13Z","v":0.69},{"t":"2025-07-22T05:34:00Z","v":0.63},{"t":"2025-07-22T05:34:48Z","v":0.57},{"t":"2025-07-22T05:35:36Z","v":0.53},{"t":"2025-07-22T05:36:24Z","v":0.65},{"t":"2025-07-22T05:37:12Z","v":0.45},{"t":"2025-07-22T05:38:00Z","v":0.55},{"t":"2025-07-22T05:38:48Z","v":0.51},{"t":"2025-07-22T05:39:36Z","v":0.59},
      {"t":"2025-07-22T05:59:56Z","v":0.81},{"t":"2025-07-22T06:00:20Z","v":0.67},{"t":"2025-07-22T06:01:08Z","v":0.63},{"t":"2025-07-22T06:01:56Z","v":0.59},{"t":"2025-07-22T06:02:44Z","v":0.71},{"t":"2025-07-22T06:03:32Z","v":0.55},{"t":"2025-07-22T06:03:56Z","v":0.61},{"t":"2025-07-22T06:04:20Z","v":0.71}
    ],
    "band": [
      {"start":"2025-07-22T02:55:36Z","end":"2025-07-22T11:20:24Z","lo":0.5,"hi":1.0}
    ]
  },
  "vconcat": [
    {
      "title": "DIQ - 2025-07-22",
      "width": 1333,
      "height": 303,
      "data": {"name": "top"},
      "encoding": {
        "x": {"field": "t", "type": "temporal", "title": null,
          "scale": {"type": "utc", "domain": [{"year": 2025, "month": 7, "date": 22, "hours": 2, "minutes": 41, "seconds": 40, "utc": true}, {"year": 2025, "month": 7, "date": 22, "hours": 11, "minutes": 33, "seconds": 40, "utc": true}]},
          "axis": {"format": "%H:%M", "tickCount": 9}},
        "y": {"field": "v", "type": "quantitative", "title": null,
          "scale": {"domain": [0.35, 3.15], "nice": false, "zero": false},
          "axis": {
            "values": [0.4,0.5,0.6,0.7,0.8,0.9,1,1.1,1.2,1.3,1.4,1.5,1.6,1.7,1.8,1.9,2,2.1,2.2,2.3,2.4,2.5,2.6,2.7,2.8,2.9,3,3.1],
            "grid": true,
            "gridColor": {"condition": {"test": "abs(datum.value*2-round(datum.value*2))<0.001", "value": "#7f7f7f"}, "value": "#e3e3e3"},
            "gridOpacity": {"condition": {"test": "abs(datum.value-round(datum.value))>0.001", "value": 0.6}, "value": 1},
            "tickOpacity": {"condition": {"test": "abs(datum.value*2-round(datum.value*2))<0.001", "value": 1}, "value": 0},
            "labelExpr": "abs(datum.value*2-round(datum.value*2))<0.001 ? format(datum.value, '~g') : ''"
          }}
      },
      "layer": [
        {
          "transform": [{"filter": "datum.s === 'wfs1'"}],
          "mark": {"type": "line", "color": "#c4c4c4", "strokeWidth": 1},
          "encoding": {"detail": {"field": "s", "type": "nominal"}}
        },
        {
          "transform": [{"filter": "datum.s === 'gc1'"}],
          "mark": {"type": "point", "size": 70, "strokeWidth": 2, "opacity": 0.85},
          "encoding": {
            "shape": {"field": "s", "type": "nominal", "scale": {"domain": ["gc1","gc2","wfs1","wfs2","dimm"], "range": ["M-1,-1L1,1M-1,1L1,-1", "M-1,0L1,0M0,-1L0,1", "diamond", "triangle-down", "circle"]}, "legend": {"orient": "none", "legendX": 21, "legendY": 9, "columns": 2, "direction": "horizontal", "title": null}},
            "fill": {"field": "s", "type": "nominal", "scale": {"domain": ["gc1","gc2","wfs1","wfs2","dimm"], "range": ["#E3A336", "#2F7F7F", "#FFC926", "#555566", "#5a6078"]}, "legend": {"orient": "none", "legendX": 21, "legendY": 9, "columns": 2, "direction": "horizontal", "title": null}},
            "stroke": {"field": "s", "type": "nominal", "scale": {"domain": ["gc1","gc2","wfs1","wfs2","dimm"], "range": ["#E3A336", "#2F7F7F", "#FF4000", "#333344", "#1a1acc"]}, "legend": {"orient": "none", "legendX": 21, "legendY": 9, "columns": 2, "direction": "horizontal", "title": null}}
          }
        },
        {
          "transform": [{"filter": "datum.s === 'gc2'"}],
          "mark": {"type": "point", "size": 100, "strokeWidth": 1.7, "opacity": 0.9},
          "encoding": {
            "shape": {"field": "s", "type": "nominal"},
            "fill": {"field": "s", "type": "nominal"},
            "stroke": {"field": "s", "type": "nominal"}
          }
        },
        {
          "transform": [{"filter": "datum.s === 'wfs1'"}],
          "mark": {"type": "point", "size": 100, "strokeWidth": 1, "opacity": 1},
          "encoding": {
            "shape": {"field": "s", "type": "nominal"},
            "fill": {"field": "s", "type": "nominal"},
            "stroke": {"field": "s", "type": "nominal"}
          }
        }
      ]
    },
    {
      "title": "Guider — WFS",
      "width": 1333,
      "height": 108,
      "data": {"name": "mid"},
      "encoding": {
        "x": {"field": "t", "type": "temporal", "title": null,
          "scale": {"type": "utc", "domain": [{"year": 2025, "month": 7, "date": 22, "hours": 2, "minutes": 41, "seconds": 40, "utc": true}, {"year": 2025, "month": 7, "date": 22, "hours": 11, "minutes": 33, "seconds": 40, "utc": true}]},
          "axis": {"format": "%H:%M", "tickCount": 9}},
        "y": {"field": "v", "type": "quantitative", "title": null,
          "scale": {"domain": [-1.3, 2.45], "nice": false, "zero": false},
          "axis": {
            "values": [-1.3,-1.2,-1.1,-1,-0.9,-0.8,-0.7,-0.6,-0.5,-0.4,-0.3,-0.2,-0.1,0,0.1,0.2,0.3,0.4,0.5,0.6,0.7,0.8,0.9,1,1.1,1.2,1.3,1.4,1.5,1.6,1.7,1.8,1.9,2,2.1,2.2,2.3,2.4],
            "grid": true,
            "gridColor": {"condition": {"test": "abs(datum.value*2-round(datum.value*2))<0.001", "value": "#7f7f7f"}, "value": "#e6e6e6"},
            "gridOpacity": {"condition": {"test": "abs(datum.value-round(datum.value))>0.001", "value": 0.6}, "value": 1},
            "tickOpacity": {"condition": {"test": "abs(datum.value-round(datum.value))<0.001", "value": 1}, "value": 0},
            "labelExpr": "abs(datum.value-round(datum.value))<0.001 ? format(datum.value, '~g') : ''"
          }}
      },
      "layer": [
        {
          "mark": {"type": "line", "color": "#cccccc", "strokeWidth": 1.5},
          "encoding": {"detail": {"field": "s", "type": "nominal"}}
        },
        {
          "transform": [{"filter": "datum.s === 'p'"}],
          "mark": {"type": "circle", "size": 100, "fill": "#7e1a82", "stroke": "#dcc8e0", "strokeWidth": 1, "opacity": 1},
          "encoding": {"detail": {"field": "s", "type": "nominal"}}
        },
        {
          "transform": [{"filter": "datum.s === 'x'"}],
          "mark": {"type": "point", "shape": "M-1,-1L1,1M-1,1L1,-1", "size": 50, "filled": false, "stroke": "#ff0000", "strokeWidth": 2.5, "opacity": 1},
          "encoding": {"detail": {"field": "s", "type": "nominal"}}
        }
      ]
    },
    {
      "title": "BLIQ+HO+LO — BLIQ+HO",
      "width": 1333,
      "height": 109,
      "layer": [
        {
          "data": {"name": "band"},
          "mark": {"type": "rect", "fill": "#ff0000", "opacity": 0.06},
          "encoding": {
            "x": {"field": "start", "type": "temporal", "title": null,
              "scale": {"type": "utc", "domain": [{"year": 2025, "month": 7, "date": 22, "hours": 2, "minutes": 41, "seconds": 40, "utc": true}, {"year": 2025, "month": 7, "date": 22, "hours": 11, "minutes": 33, "seconds": 40, "utc": true}]},
              "axis": {"format": "%H:%M", "tickCount": 9}},
            "x2": {"field": "end"},
            "y": {"field": "lo", "type": "quantitative", "title": null,
              "scale": {"domain": [-0.2, 1.95], "nice": false, "zero": false},
              "axis": {
                "values": [-0.2,-0.15,-0.1,-0.05,0,0.05,0.1,0.15,0.2,0.25,0.3,0.35,0.4,0.45,0.5,0.55,0.6,0.65,0.7,0.75,0.8,0.85,0.9,0.95,1,1.05,1.1,1.15,1.2,1.25,1.3,1.35,1.4,1.45,1.5,1.55,1.6,1.65,1.7,1.75,1.8,1.85,1.9,1.95],
                "grid": true,
                "gridColor": {"condition": {"test": "abs(datum.value*2-round(datum.value*2))<0.001", "value": "#7f7f7f"}, "value": "#e6e6e6"},
                "tickOpacity": {"condition": {"test": "abs(datum.value*2-round(datum.value*2))<0.001", "value": 1}, "value": 0},
                "labelExpr": "abs(datum.value*2-round(datum.value*2))<0.001 ? (abs(datum.value)<0.001 ? '0' : format(datum.value, '.1f')) : ''"
              }},
            "y2": {"field": "hi"}
          }
        },
        {
          "data": {"name": "band"},
          "mark": {"type": "rule", "color": "#a8323c", "strokeWidth": 1.2, "strokeDash": [4, 2.5]},
          "encoding": {
            "x": {"field": "start", "type": "temporal", "title": null,
              "scale": {"type": "utc", "domain": [{"year": 2025, "month": 7, "date": 22, "hours": 2, "minutes": 41, "seconds": 40, "utc": true}, {"year": 2025, "month": 7, "date": 22, "hours": 11, "minutes": 33, "seconds": 40, "utc": true}]},
              "axis": {"format": "%H:%M", "tickCount": 9}},
            "x2": {"field": "end"},
            "y": {"field": "lo", "type": "quantitative", "title": null,
              "scale": {"domain": [-0.2, 1.95], "nice": false, "zero": false},
              "axis": {
                "values": [-0.2,-0.15,-0.1,-0.05,0,0.05,0.1,0.15,0.2,0.25,0.3,0.35,0.4,0.45,0.5,0.55,0.6,0.65,0.7,0.75,0.8,0.85,0.9,0.95,1,1.05,1.1,1.15,1.2,1.25,1.3,1.35,1.4,1.45,1.5,1.55,1.6,1.65,1.7,1.75,1.8,1.85,1.9,1.95],
                "grid": true,
                "gridColor": {"condition": {"test": "abs(datum.value*2-round(datum.value*2))<0.001", "value": "#7f7f7f"}, "value": "#e6e6e6"},
                "tickOpacity": {"condition": {"test": "abs(datum.value*2-round(datum.value*2))<0.001", "value": 1}, "value": 0},
                "labelExpr": "abs(datum.value*2-round(datum.value*2))<0.001 ? (abs(datum.value)<0.001 ? '0' : format(datum.value, '.1f')) : ''"
              }}
          }
        },
        {
          "data": {"name": "band"},
          "mark": {"type": "rule", "color": "#a8323c", "strokeWidth": 1.2, "strokeDash": [4, 2.5]},
          "encoding": {
            "x": {"field": "start", "type": "temporal", "title": null,
              "scale": {"type": "utc", "domain": [{"year": 2025, "month": 7, "date": 22, "hours": 2, "minutes": 41, "seconds": 40, "utc": true}, {"year": 2025, "month": 7, "date": 22, "hours": 11, "minutes": 33, "seconds": 40, "utc": true}]},
              "axis": {"format": "%H:%M", "tickCount": 9}},
            "x2": {"field": "end"},
            "y": {"field": "hi", "type": "quantitative", "title": null,
              "scale": {"domain": [-0.2, 1.95], "nice": false, "zero": false},
              "axis": {
                "values": [-0.2,-0.15,-0.1,-0.05,0,0.05,0.1,0.15,0.2,0.25,0.3,0.35,0.4,0.45,0.5,0.55,0.6,0.65,0.7,0.75,0.8,0.85,0.9,0.95,1,1.05,1.1,1.15,1.2,1.25,1.3,1.35,1.4,1.45,1.5,1.55,1.6,1.65,1.7,1.75,1.8,1.85,1.9,1.95],
                "grid": true,
                "gridColor": {"condition": {"test": "abs(datum.value*2-round(datum.value*2))<0.001", "value": "#7f7f7f"}, "value": "#e6e6e6"},
                "tickOpacity": {"condition": {"test": "abs(datum.value*2-round(datum.value*2))<0.001", "value": 1}, "value": 0},
                "labelExpr": "abs(datum.value*2-round(datum.value*2))<0.001 ? (abs(datum.value)<0.001 ? '0' : format(datum.value, '.1f')) : ''"
              }}
          }
        },
        {
          "data": {"name": "bot"},
          "mark": {"type": "circle", "size": 64, "fill": "#0b0b78", "stroke": "#c8c8e6", "strokeWidth": 1, "opacity": 1},
          "encoding": {
            "x": {"field": "t", "type": "temporal", "title": null,
              "scale": {"type": "utc", "domain": [{"year": 2025, "month": 7, "date": 22, "hours": 2, "minutes": 41, "seconds": 40, "utc": true}, {"year": 2025, "month": 7, "date": 22, "hours": 11, "minutes": 33, "seconds": 40, "utc": true}]},
              "axis": {"format": "%H:%M", "tickCount": 9}},
            "y": {"field": "v", "type": "quantitative", "title": null,
              "scale": {"domain": [-0.2, 1.95], "nice": false, "zero": false},
              "axis": {
                "values": [-0.2,-0.15,-0.1,-0.05,0,0.05,0.1,0.15,0.2,0.25,0.3,0.35,0.4,0.45,0.5,0.55,0.6,0.65,0.7,0.75,0.8,0.85,0.9,0.95,1,1.05,1.1,1.15,1.2,1.25,1.3,1.35,1.4,1.45,1.5,1.55,1.6,1.65,1.7,1.75,1.8,1.85,1.9,1.95],
                "grid": true,
                "gridColor": {"condition": {"test": "abs(datum.value*2-round(datum.value*2))<0.001", "value": "#7f7f7f"}, "value": "#e6e6e6"},
                "tickOpacity": {"condition": {"test": "abs(datum.value*2-round(datum.value*2))<0.001", "value": 1}, "value": 0},
                "labelExpr": "abs(datum.value*2-round(datum.value*2))<0.001 ? (abs(datum.value)<0.001 ? '0' : format(datum.value, '.1f')) : ''"
              }}
          }
        }
      ]
    }
  ]
}
